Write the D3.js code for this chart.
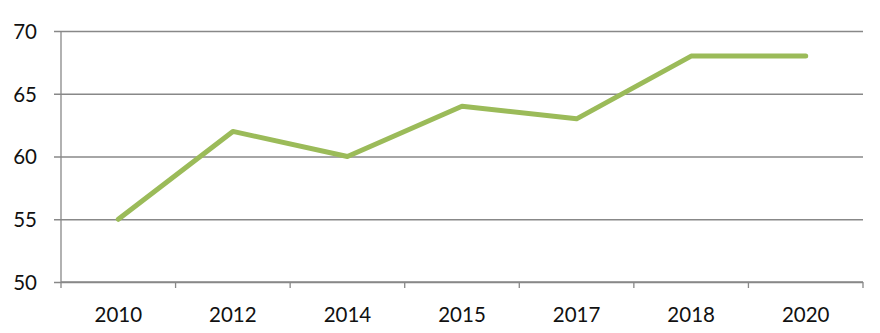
<!DOCTYPE html>
<html>
<head>
<meta charset="utf-8">
<script src="https://cdn.jsdelivr.net/npm/d3@7"></script>
<style>
  body { margin: 0; background: #fff; }
  text { font-family: Lato, "Open Sans", sans-serif; fill: #111; }
</style>
</head>
<body>
<script>
"use strict";

var years = ["2010", "2012", "2014", "2015", "2017", "2018", "2020"];
var values = [55, 62, 60, 64, 63, 68, 68];
var yTicks = [50, 55, 60, 65, 70];

var width = 880;
var height = 333;
var padLeft = 61;
var padRight = 863;
var padTop = 31;
var padBottom = 282;

var svg = d3.select("body").append("svg").attr("width", width).attr("height", height);

// Scales
var xScale = d3.scaleBand().domain(years).range([padLeft, padRight]);
var yScale = d3.scaleLinear().domain([50, 70]).range([padBottom, padTop]);

// Gridlines + y axis
var yAxis = d3.axisLeft(yScale).tickValues(yTicks).tickSize(-(padRight - padLeft)).tickPadding(24);
var gy = svg.append("g").attr("transform", "translate(" + padLeft + ",0)").call(yAxis);
gy.select(".domain").remove();
gy.selectAll(".tick line").attr("stroke", "#888").attr("stroke-width", 1.3).attr("x1", -7);
gy.selectAll(".tick text").attr("font-size", 20.5).attr("dy", "0.36em");

svg.append("line").attr("x1", padLeft).attr("x2", padLeft).attr("y1", padTop).attr("y2", padBottom)
  .attr("stroke", "#888").attr("stroke-width", 1.3);

// X axis with ticks between categories
var gx = svg.append("g").attr("transform", "translate(0," + padBottom + ")");
gx.append("line").attr("x1", padLeft).attr("x2", padRight).attr("stroke", "#888").attr("stroke-width", 1.3);
var edges = years.map(function (d) { return xScale(d); }).concat([padRight]);
gx.selectAll(".tk").data(edges).enter().append("line")
  .attr("x1", function (d) { return d; }).attr("x2", function (d) { return d; })
  .attr("y1", 0).attr("y2", 6).attr("stroke", "#888").attr("stroke-width", 1.3);
gx.selectAll(".lbl").data(years).enter().append("text")
  .attr("x", function (d) { return xScale(d) + xScale.bandwidth() / 2; })
  .attr("y", 40).attr("text-anchor", "middle").attr("font-size", 20.5)
  .text(function (d) { return d; });

// Line
var line = d3.line()
  .x(function (d, i) { return xScale(years[i]) + xScale.bandwidth() / 2; })
  .y(function (d) { return yScale(d); });
svg.append("path").datum(values).attr("d", line)
  .attr("fill", "none").attr("stroke", "#9BBB59").attr("stroke-width", 5)
  .attr("stroke-linecap", "round").attr("stroke-linejoin", "round");
</script>
</body>
</html>
